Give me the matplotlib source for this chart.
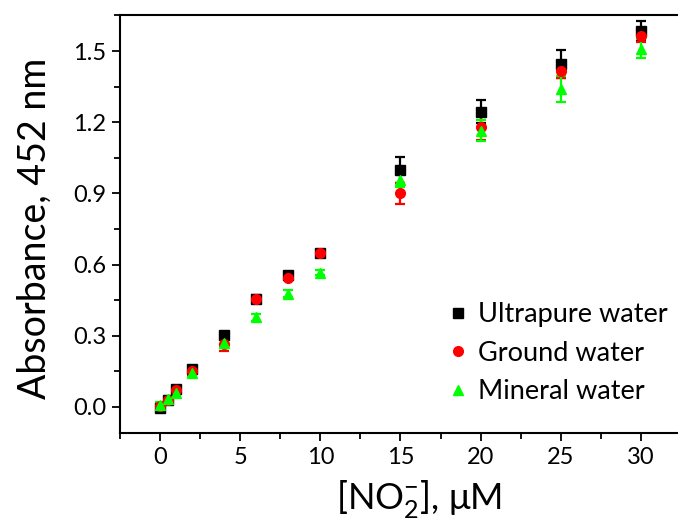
import matplotlib
matplotlib.use("Agg")
import matplotlib.pyplot as plt
from matplotlib.ticker import MultipleLocator

plt.rcParams["font.family"] = ["Lato", "DejaVu Sans"]
plt.rcParams["mathtext.fontset"] = "custom"
plt.rcParams["mathtext.rm"] = "Lato"
plt.rcParams["mathtext.it"] = "Lato"

# -----------------------
# Data
# -----------------------
conc = [0, 0.5, 1, 2, 4, 6, 8, 10, 15, 20, 25, 30]

ultrapure = [-0.005, 0.03, 0.075, 0.16, 0.305, 0.455, 0.555, 0.65, 1.0, 1.245, 1.445, 1.585]
ultrapure_err = [0.01, 0.01, 0.01, 0.01, 0.012, 0.015, 0.01, 0.01, 0.055, 0.05, 0.06, 0.04]

ground = [0.005, 0.03, 0.07, 0.15, 0.265, 0.455, 0.545, 0.65, 0.90, 1.18, 1.415, 1.565]
ground_err = [0.01, 0.01, 0.01, 0.015, 0.03, 0.01, 0.01, 0.01, 0.045, 0.055, 0.03, 0.025]

mineral = [0.01, 0.035, 0.06, 0.145, 0.27, 0.378, 0.478, 0.566, 0.955, 1.165, 1.34, 1.51]
mineral_err = [0.01, 0.01, 0.015, 0.02, 0.015, 0.015, 0.015, 0.01, 0.03, 0.045, 0.055, 0.04]

series = [
    ("Ultrapure water", ultrapure, ultrapure_err, "black", "s"),
    ("Ground water", ground, ground_err, "#ff0000", "o"),
    ("Mineral water", mineral, mineral_err, "#00ff00", "^"),
]

# -----------------------
# Plot
# -----------------------
fig = plt.figure(figsize=(6.78, 5.24), dpi=100)
ax = fig.add_axes([120 / 678, 91 / 524, 561 / 678, 418 / 524])

handles = []
for label, vals, errs, color, marker in series:
    c = ax.errorbar(conc, vals, yerr=errs, fmt=marker, color=color, ecolor=color,
                    markersize=7, elinewidth=1.6, capsize=3.5, capthick=1.6,
                    label=label)
    handles.append(c[0])

ax.set_xlim(-2.5, 32.5)
ax.set_ylim(-0.11, 1.652)

ax.xaxis.set_major_locator(MultipleLocator(5))
ax.xaxis.set_minor_locator(MultipleLocator(2.5))
ax.yaxis.set_major_locator(MultipleLocator(0.3))
ax.yaxis.set_minor_locator(MultipleLocator(0.15))
ax.yaxis.set_major_formatter(plt.FuncFormatter(lambda v, p: f"{v:.1f}"))

ax.tick_params(which="major", direction="out", length=6, width=1.3, labelsize=17, pad=4)
ax.tick_params(which="minor", direction="out", length=4, width=1.3)
ax.tick_params(top=False, right=False)
for s in ax.spines.values():
    s.set_linewidth(1.5)

ax.set_xlabel("[NO$_2^{-}$], μM", fontsize=26)
ax.xaxis.set_label_coords(0.532, -0.108)
ax.set_ylabel("Absorbance, 452 nm", fontsize=27)
ax.yaxis.set_label_coords(-0.12, 0.49)

ax.legend(handles=handles, labels=[s[0] for s in series], loc="lower right",
          bbox_to_anchor=(1.005, 0.03), frameon=False, fontsize=19.5,
          handlelength=0.6, handletextpad=0.45, labelspacing=0.5,
          borderaxespad=0.2)

fig.savefig("out.png", dpi=100)
